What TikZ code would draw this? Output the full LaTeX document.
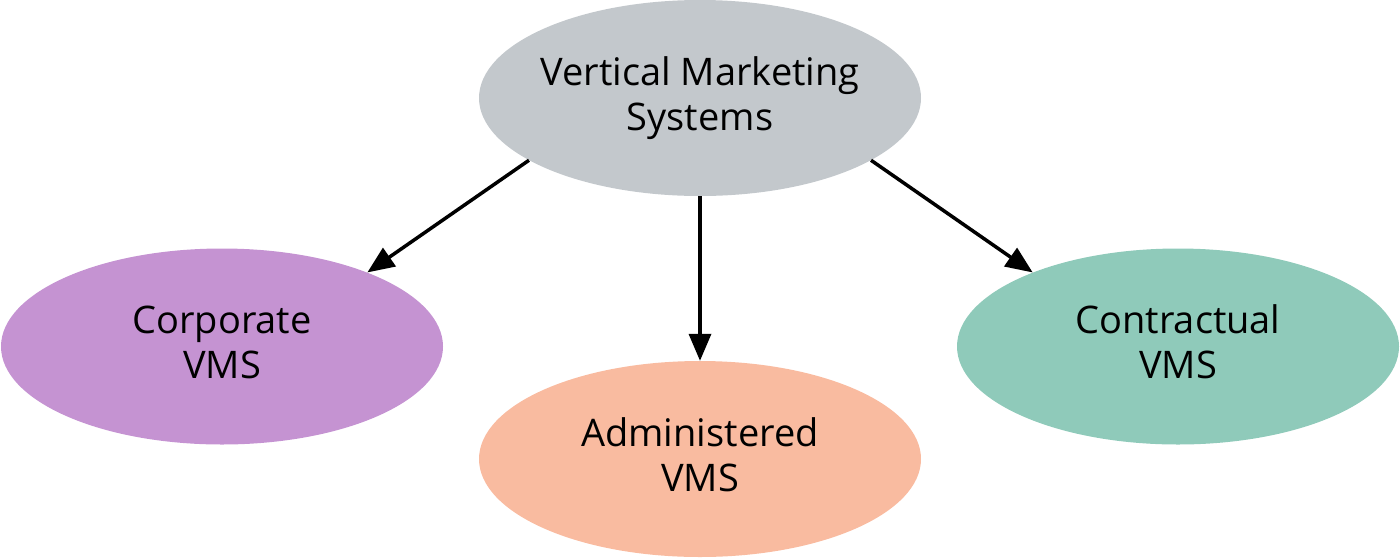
\documentclass[tikz,border=0pt]{standalone}
\usepackage{fontspec}
\setmainfont{Open Sans}
\usetikzlibrary{shapes.geometric,arrows.meta}
\definecolor{cgrey}{HTML}{C3C8CC}
\definecolor{cpurple}{HTML}{C593D2}
\definecolor{csalmon}{HTML}{F9BBA0}
\definecolor{cteal}{HTML}{8FCABA}
\tikzset{
  bubble/.style={ellipse, inner sep=-12pt, minimum width=442pt, minimum height=196pt, align=center, font=\fontsize{38}{45}\selectfont},
  conn/.style={line width=3.5pt, -{Triangle[length=27pt,width=22pt]}}
}
\begin{document}
\begin{tikzpicture}[x=1pt,y=-1pt]
\useasboundingbox (0,0) rectangle (1400,558);
\node[bubble, fill=cgrey] (top) at (700,98) {Vertical Marketing\\Systems};
\node[bubble, fill=cpurple] (corp) at (222,346.5) {Corporate\\VMS\vphantom{y}};
\node[bubble, fill=csalmon] (adm) at (700,459) {Administered\\VMS\vphantom{y}};
\node[bubble, fill=cteal] (con) at (1178,346.5) {Contractual\\VMS\vphantom{y}};
\draw[conn] (top.200) -- (corp.27);
\draw[conn] (top.south) -- (adm.north);
\draw[conn] (top.340) -- (con.153);
\end{tikzpicture}
\end{document}
